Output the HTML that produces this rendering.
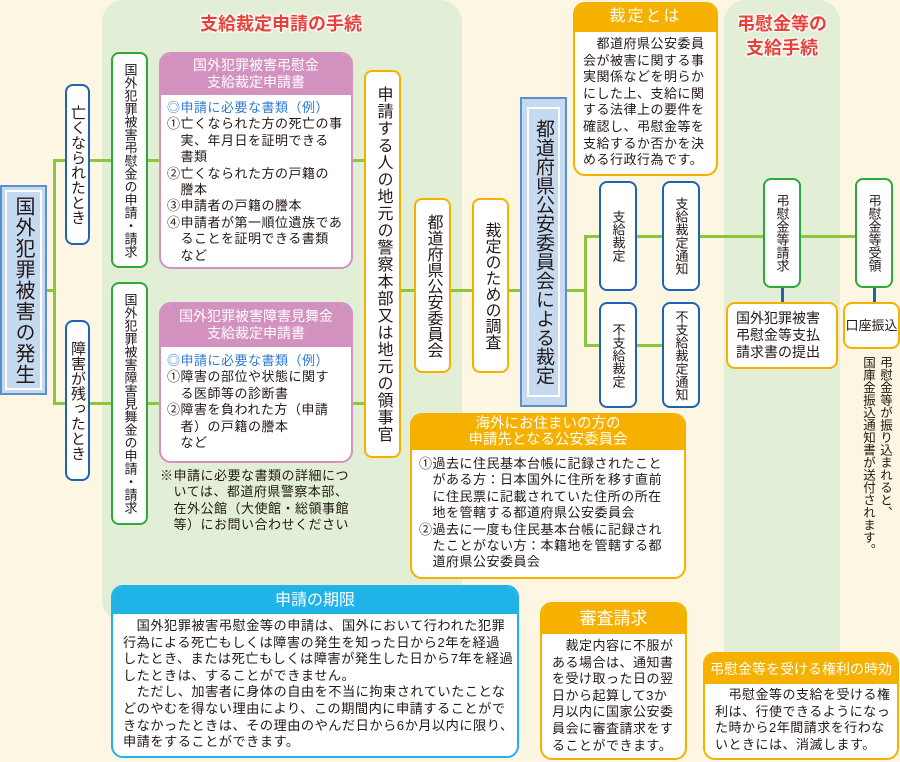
<!DOCTYPE html>
<html><head><meta charset="utf-8"><style>
*{margin:0;padding:0;box-sizing:border-box}
body{width:900px;height:762px;background:#fdf6e3;position:relative;overflow:hidden;font-family:"Liberation Sans","Noto Sans CJK JP",sans-serif;color:#231815}
.a{position:absolute}
.v{writing-mode:vertical-rl;display:flex;align-items:center;justify-content:center;text-align:center;background:#fff;border-radius:8px;border:2px solid}
.bl{border-color:#1f63b5}.gr{border-color:#2eaa3c}.or{border-color:#f5b000}
.ln{position:absolute;background:#8cc63f}
.box{position:absolute;background:#fff;border-radius:12px;border:2px solid;overflow:hidden}
.hd{color:#fff;text-align:center}
.t{font-size:13px;line-height:16.4px;letter-spacing:0.5px}
.ttl{position:absolute;color:#e8413a;font-weight:bold;text-shadow:-1px -1px 0 #fff,1px -1px 0 #fff,-1px 1px 0 #fff,1px 1px 0 #fff,0 0 3px #fff;text-align:center}
</style></head><body>
<div class="a" style="left:102px;top:0;width:360px;height:622px;background:#e2eed6;border-radius:22px"></div>
<div class="a" style="left:724px;top:0;width:116px;height:652px;background:#e2eed6;border-radius:22px 22px 0 0"></div>
<div class="ttl" style="left:186px;top:10px;width:190px;font-size:18px">支給裁定申請の手続</div>
<div class="ttl" style="left:728px;top:12px;width:108px;font-size:18px;line-height:24px">弔慰金等の<br>支給手続</div>

<div class="ln" style="left:47px;top:289px;width:8px;height:3px"></div>
<div class="ln" style="left:53px;top:159px;width:3px;height:246px"></div>
<div class="ln" style="left:53px;top:159px;width:60px;height:3px"></div>
<div class="ln" style="left:53px;top:402px;width:60px;height:3px"></div>
<div class="ln" style="left:147px;top:159px;width:14px;height:3px"></div>
<div class="ln" style="left:147px;top:402px;width:14px;height:3px"></div>
<div class="ln" style="left:352px;top:159px;width:14px;height:3px"></div>
<div class="ln" style="left:352px;top:402px;width:14px;height:3px"></div>
<div class="ln" style="left:400px;top:289px;width:120px;height:3px"></div>
<div class="ln" style="left:566px;top:289px;width:20px;height:3px"></div>
<div class="ln" style="left:584px;top:235px;width:3px;height:111px"></div>
<div class="ln" style="left:584px;top:235px;width:272px;height:3px"></div>
<div class="ln" style="left:584px;top:344px;width:80px;height:3px"></div>
<div class="a" style="left:781px;top:287px;width:3px;height:16px;background:#1f63b5"></div>
<div class="a" style="left:873px;top:287px;width:3px;height:16px;background:#1f63b5"></div>

<div class="a" style="left:0;top:185px;width:47px;height:210px;background:#c5daf0;border:2px solid #5b8fd0"><div style="position:absolute;left:3px;top:3px;right:3px;bottom:3px;border:2px solid #fff;writing-mode:vertical-rl;display:flex;align-items:center;justify-content:center;font-size:20px;letter-spacing:1px">国外犯罪被害の発生</div></div>
<div class="a v bl" style="left:65px;top:84px;width:25px;height:161px;font-size:15px">亡くなられたとき</div>
<div class="a v bl" style="left:65px;top:320px;width:25px;height:161px;font-size:15px">障害が残ったとき</div>
<div class="a v gr" style="left:111px;top:52px;width:37px;height:216px;font-size:13px;line-height:14px">国外犯罪被害弔慰金の申請・請求</div>
<div class="a v gr" style="left:111px;top:282px;width:37px;height:243px;font-size:13px;line-height:14px">国外犯罪被害障害見舞金の申請・請求</div>

<div class="box" style="left:159px;top:52px;width:194px;height:217px;border-color:#d391bf">
<div class="hd" style="background:#d391bf;height:41px;font-size:14px;line-height:17px;padding-top:3px">国外犯罪被害弔慰金<br>支給裁定申請書</div>
<div class="t" style="padding:5px 2px 0 6px"><span style="color:#2e7bd6">◎申請に必要な書類（例）</span><br>①亡くなられた方の死亡の事<br>　実、年月日を証明できる<br>　書類<br>②亡くなられた方の戸籍の<br>　謄本<br>③申請者の戸籍の謄本<br>④申請者が第一順位遺族であ<br>　ることを証明できる書類<br>　など</div></div>

<div class="box" style="left:159px;top:302px;width:194px;height:161px;border-color:#d391bf">
<div class="hd" style="background:#d391bf;height:43px;font-size:14px;line-height:17px;padding-top:4px">国外犯罪被害障害見舞金<br>支給裁定申請書</div>
<div class="t" style="padding:6px 2px 0 6px"><span style="color:#2e7bd6">◎申請に必要な書類（例）</span><br>①障害の部位や状態に関す<br>　る医師等の診断書<br>②障害を負われた方（申請<br>　者）の戸籍の謄本<br>　など</div></div>
<div class="a t" style="left:160px;top:468px;width:200px">※申請に必要な書類の詳細につ<br>　いては、都道府県警察本部、<br>　在外公館（大使館・総領事館<br>　等）にお問い合わせください</div>

<div class="a v or" style="left:364px;top:70px;width:37px;height:388px;font-size:16px;letter-spacing:1px">申請する人の地元の警察本部又は地元の領事官</div>
<div class="a v or" style="left:414px;top:198px;width:37px;height:175px;font-size:16px">都道府県公安委員会</div>
<div class="a v or" style="left:472px;top:198px;width:37px;height:175px;font-size:16px">裁定のための調査</div>
<div class="a" style="left:520px;top:97px;width:47px;height:310px;background:#c5daf0;border:2px solid #5b8fd0"><div style="position:absolute;left:5px;top:8px;right:5px;bottom:8px;border:2px solid #fff;writing-mode:vertical-rl;display:flex;align-items:center;justify-content:center;font-size:19px">都道府県公安委員会による裁定</div></div>

<div class="a v bl" style="left:599px;top:181px;width:38px;height:110px;font-size:13px">支給裁定</div>
<div class="a v bl" style="left:662px;top:181px;width:38px;height:110px;font-size:13px">支給裁定通知</div>
<div class="a v bl" style="left:599px;top:302px;width:38px;height:106px;font-size:13px">不支給裁定</div>
<div class="a v bl" style="left:662px;top:302px;width:38px;height:106px;font-size:13px">不支給裁定通知</div>

<div class="box" style="left:573px;top:2px;width:145px;height:174px;border-color:#f5b000">
<div class="hd" style="background:#f5b000;height:28px;font-size:16px;line-height:26px;letter-spacing:2px">裁定とは</div>
<div class="t" style="padding:4px 2px 0 8px;line-height:16.6px">　都道府県公安委員<br>会が被害に関する事<br>実関係などを明らか<br>にした上、支給に関<br>する法律上の要件を<br>確認し、弔慰金等を<br>支給するか否かを決<br>める行政行為です。</div></div>

<div class="a v gr" style="left:763px;top:178px;width:38px;height:110px;font-size:13px">弔慰金等請求</div>
<div class="a v gr" style="left:855px;top:178px;width:38px;height:110px;font-size:13px">弔慰金等受領</div>
<div class="box" style="left:726px;top:302px;width:112px;height:67px;border-color:#f5b000;border-radius:9px;font-size:14px;line-height:17px;padding:6px 0 0 8px">国外犯罪被害<br>弔慰金等支払<br>請求書の提出</div>
<div class="box" style="left:843px;top:302px;width:57px;height:47px;border-color:#f5b000;border-radius:9px;font-size:13px;line-height:43px;text-align:center">口座振込</div>
<div class="a" style="left:853px;top:356px;width:40px;height:220px;writing-mode:vertical-rl;font-size:12.5px;line-height:17px">弔慰金等が振り込まれると、<br>国庫金振込通知書が送付されます。</div>

<div class="box" style="left:410px;top:413px;width:276px;height:166px;border-color:#f5b000">
<div class="hd" style="background:#f5b000;height:35px;font-size:14.5px;line-height:16px;padding-top:1px">海外にお住まいの方の<br>申請先となる公安委員会</div>
<div class="t" style="padding:6px 2px 0 7px">①過去に住民基本台帳に記録されたこと<br>　がある方：日本国外に住所を移す直前<br>　に住民票に記載されていた住所の所在<br>　地を管轄する都道府県公安委員会<br>②過去に一度も住民基本台帳に記録され<br>　たことがない方：本籍地を管轄する都<br>　道府県公安委員会</div></div>

<div class="box" style="left:111px;top:585px;width:408px;height:173px;border-color:#1fb3e8">
<div class="hd" style="background:#1fb3e8;height:27px;font-size:16px;line-height:27px">申請の期限</div>
<div class="t" style="padding:4px 2px 0 10px;font-size:13.2px;line-height:16.6px">　国外犯罪被害弔慰金等の申請は、国外において行われた犯罪<br>行為による死亡もしくは障害の発生を知った日から2年を経過<br>したとき、または死亡もしくは障害が発生した日から7年を経過<br>したときは、することができません。<br>　ただし、加害者に身体の自由を不当に拘束されていたことな<br>どのやむを得ない理由により、この期間内に申請することがで<br>きなかったときは、その理由のやんだ日から6か月以内に限り、<br>申請をすることができます。</div></div>

<div class="box" style="left:540px;top:602px;width:147px;height:158px;border-color:#f5b000">
<div class="hd" style="background:#f5b000;height:30px;font-size:17px;line-height:30px">審査請求</div>
<div class="t" style="padding:4px 2px 0 10px;line-height:16.6px">　裁定内容に不服が<br>ある場合は、通知書<br>を受け取った日の翌<br>日から起算して3か<br>月以内に国家公安委<br>員会に審査請求をす<br>ることができます。</div></div>

<div class="box" style="left:703px;top:652px;width:196px;height:108px;border-color:#f5b000">
<div class="hd" style="background:#f5b000;height:30px;font-size:14px;line-height:30px">弔慰金等を受ける権利の時効</div>
<div class="t" style="padding:3px 2px 0 10px;line-height:16.6px">　弔慰金等の支給を受ける権<br>利は、行使できるようになっ<br>た時から2年間請求を行わな<br>いときには、消滅します。</div></div>
</body></html>
